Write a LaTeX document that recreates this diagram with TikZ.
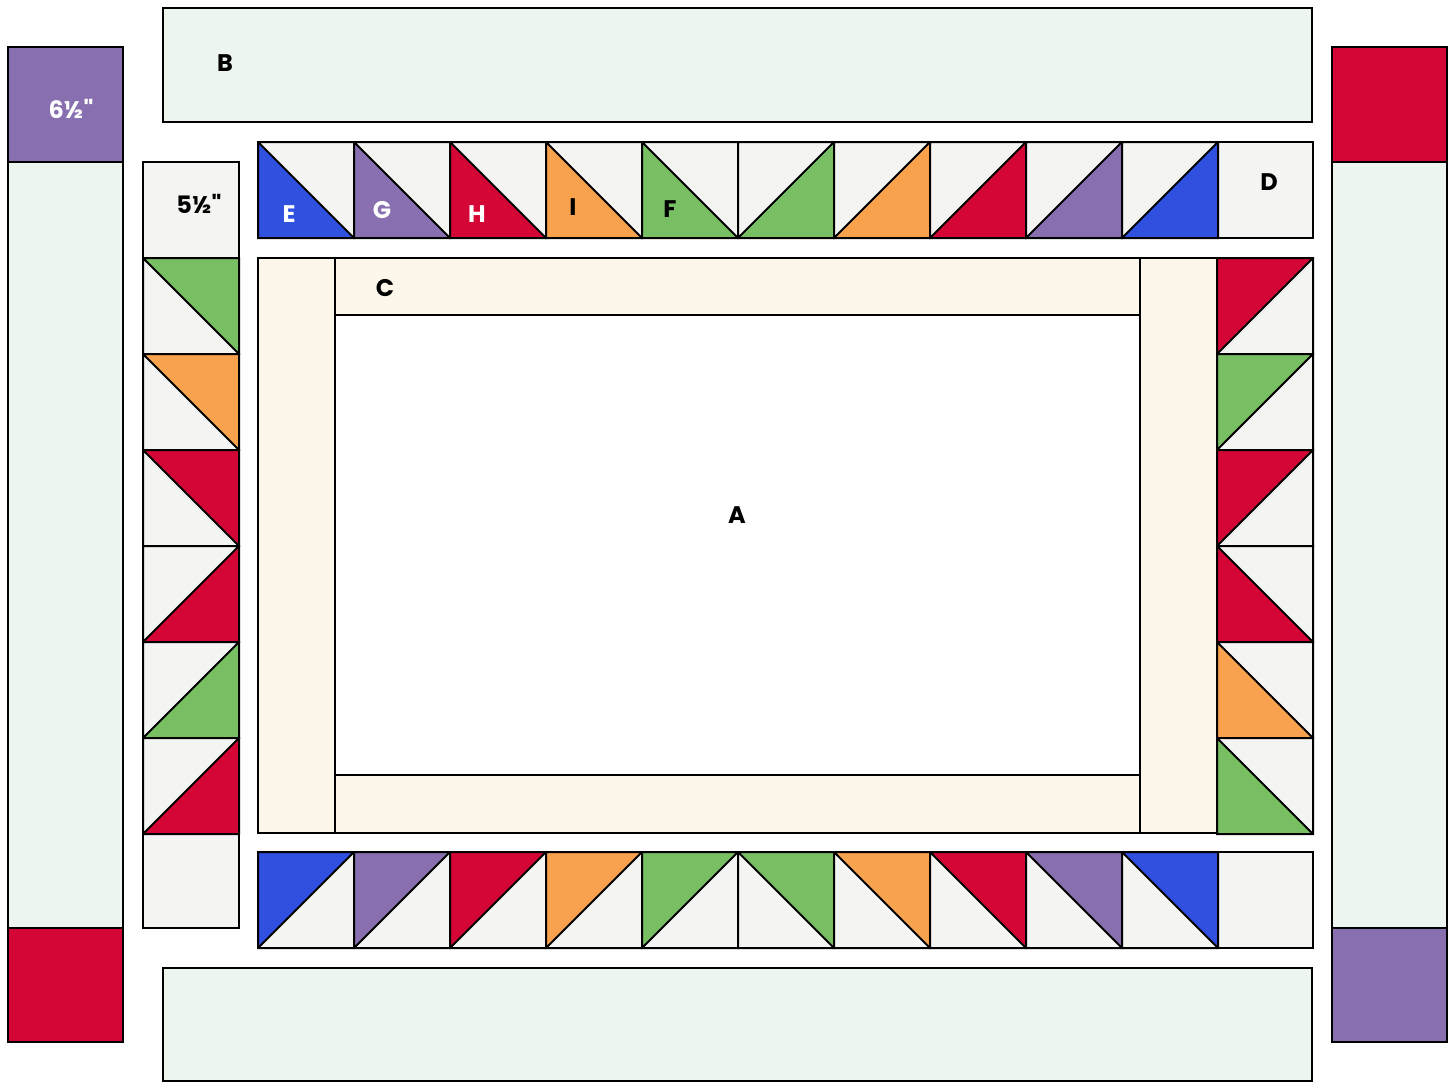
\documentclass[tikz,border=0pt]{standalone}
\usepackage{fontspec}
\setmainfont{Poppins}[Ligatures=TeXOff]
\usepackage{tikz}
\usepackage{xcolor}

\definecolor{qblue}{HTML}{3050DF}
\definecolor{qpurple}{HTML}{8870B0}
\definecolor{qred}{HTML}{D40636}
\definecolor{qorange}{HTML}{F9A24E}
\definecolor{qgreen}{HTML}{78BE62}
\definecolor{muslin}{HTML}{F4F4F2}
\definecolor{mint}{HTML}{ECF5EE}
\definecolor{cream}{HTML}{FDF6EA}

% half-square triangle: x, y, colour, right-angle corner (a,b)
\newcommand{\quiltcell}[5]{%
  \begin{scope}[shift={({#1},{#2})}]
    \fill[muslin] (0,0) rectangle (96,96);
    \fill[#3] ({96*#4},{96*#5}) -- ({96-96*#4},{96*#5}) -- ({96*#4},{96-96*#5}) -- cycle;
    \draw[seam] (0,0) rectangle (96,96) ({96-96*#4},{96*#5}) -- ({96*#4},{96-96*#5});
  \end{scope}}

\begin{document}
\begin{tikzpicture}[x=1pt,y=-1pt,
  seam/.style={draw=black,line width=2pt},
  tag/.style={font=\bfseries\fontsize{24}{26}\selectfont,inner sep=0pt}]
  \useasboundingbox (0,0) rectangle (1454,1082);
  % borders
  \filldraw[seam,fill=mint] (163,8) rectangle (1312,122);
  \filldraw[seam,fill=mint] (163,968) rectangle (1312,1081);
  \filldraw[seam,fill=qpurple] (8,47) rectangle (123,162);
  \filldraw[seam,fill=mint] (8,162) rectangle (123,928);
  \filldraw[seam,fill=qred] (8,928) rectangle (123,1042);
  \filldraw[seam,fill=qred] (1332,47) rectangle (1447,162);
  \filldraw[seam,fill=mint] (1332,162) rectangle (1447,928);
  \filldraw[seam,fill=qpurple] (1332,928) rectangle (1447,1042);
  % centre panel
  \filldraw[seam,fill=cream] (258,258) rectangle (1217,833);
  \filldraw[seam,fill=white] (335,315) rectangle (1140,775);
  \draw[seam] (335,258) -- (335,315) (1140,258) -- (1140,315) (335,775) -- (335,833) (1140,775) -- (1140,833);
  % plain corner squares
  \filldraw[seam,fill=muslin] (143,162) rectangle (239,258);
  \filldraw[seam,fill=muslin] (143,834) rectangle (239,928);
  \filldraw[seam,fill=muslin] (1217,142) rectangle (1313,238);
  \filldraw[seam,fill=muslin] (1217,852) rectangle (1313,948);
  % triangle rows
  \foreach \c/\a/\b [count=\i from 0] in {qblue/0/1,qpurple/0/1,qred/0/1,qorange/0/1,qgreen/0/1,
      qgreen/1/1,qorange/1/1,qred/1/1,qpurple/1/1,qblue/1/1}
    \quiltcell{258+96*\i}{142}{\c}{\a}{\b};
  \foreach \c/\a/\b [count=\i from 0] in {qblue/0/0,qpurple/0/0,qred/0/0,qorange/0/0,qgreen/0/0,
      qgreen/1/0,qorange/1/0,qred/1/0,qpurple/1/0,qblue/1/0}
    \quiltcell{258+96*\i}{852}{\c}{\a}{\b};
  \foreach \c/\a/\b [count=\i from 0] in {qgreen/1/0,qorange/1/0,qred/1/0,qred/1/1,qgreen/1/1,qred/1/1}
    \quiltcell{143}{258+96*\i}{\c}{\a}{\b};
  \foreach \c/\a/\b [count=\i from 0] in {qred/0/0,qgreen/0/0,qred/0/0,qred/0/1,qorange/0/1,qgreen/0/1}
    \quiltcell{1217}{258+96*\i}{\c}{\a}{\b};
  % labels
  \node[tag,white] (six) at (71,109) {6½"};
  \node[tag] (five) at (199,204) {5½"};
  \node[tag] (B) at (225,63) {B};
  \node[tag,white] (E) at (289,214) {E};
  \node[tag,white] (G) at (382,210) {G};
  \node[tag,white] (H) at (477,214) {H};
  \node[tag] (I) at (573,207) {I};
  \node[tag] (F) at (670,209) {F};
  \node[tag] (D) at (1269,182) {D};
  \node[tag] (C) at (385,288) {C};
  \node[tag] (A) at (737,515) {A};
\end{tikzpicture}
\end{document}
